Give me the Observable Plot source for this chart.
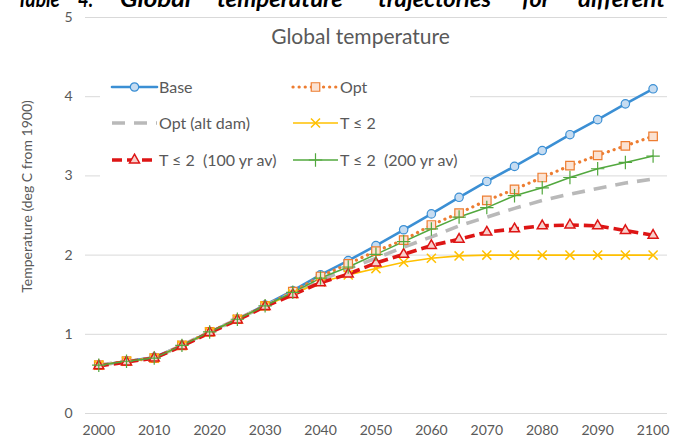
<!DOCTYPE html>
<html>
<head>
<meta charset="utf-8">
<script src="https://cdn.jsdelivr.net/npm/d3@7"></script>
<script src="https://cdn.jsdelivr.net/npm/@observablehq/plot@0.6"></script>
<style>
  html, body { margin: 0; padding: 0; background: #fff; overflow: hidden; }
  #wrap { position: relative; width: 678px; height: 440px; font-family: Lato, "Open Sans", sans-serif; }
  #caption { position: absolute; left: 0; top: 0; }
  #title { position: absolute; left: 0; width: 721px; top: 24px; text-align: center; font: 400 21px/24px Lato, sans-serif; color: #595959; }
  #legend { position: absolute; left: 100px; top: 68px; width: 370px; height: 115px; background: #fff; }
  svg { display: block; }
</style>
</head>
<body>
<div id="wrap">
  <div id="chart"></div>
  <div id="caption"></div>
  <div id="title">Global temperature</div>
  <div id="legend"></div>
</div>
<script>
// ---- data ----
const years = [2000,2005,2010,2015,2020,2025,2030,2035,2040,2045,2050,2055,2060,2065,2070,2075,2080,2085,2090,2095,2100];
const base    = [0.61,0.66,0.71,0.86,1.03,1.19,1.37,1.55,1.75,1.93,2.12,2.32,2.52,2.73,2.93,3.12,3.32,3.52,3.71,3.91,4.10];
const opt     = [0.61,0.66,0.70,0.86,1.03,1.19,1.36,1.54,1.73,1.89,2.05,2.19,2.38,2.53,2.69,2.83,2.98,3.13,3.26,3.38,3.50];
const optAlt  = [0.61,0.66,0.70,0.86,1.03,1.19,1.36,1.52,1.68,1.83,1.96,2.10,2.23,2.37,2.48,2.59,2.69,2.77,2.84,2.91,2.96];
const t2      = [0.61,0.66,0.70,0.86,1.03,1.19,1.36,1.51,1.66,1.75,1.83,1.91,1.96,1.99,2.00,2.00,2.00,2.00,2.00,2.00,2.00];
const t2y100  = [0.60,0.65,0.70,0.85,1.02,1.18,1.35,1.50,1.65,1.76,1.90,2.01,2.12,2.20,2.29,2.33,2.37,2.38,2.37,2.31,2.25];
const t2y200  = [0.61,0.66,0.70,0.86,1.03,1.19,1.36,1.53,1.71,1.85,2.01,2.17,2.33,2.48,2.60,2.75,2.85,2.98,3.09,3.17,3.25];
const seriesNames = ["Base", "Opt", "Opt (alt dam)", "T ≤ 2", "T ≤ 2  (100 yr av)", "T ≤ 2  (200 yr av)"];
const seriesValues = [base, opt, optAlt, t2, t2y100, t2y200];
const xTicks = [2000,2010,2020,2030,2040,2050,2060,2070,2080,2090,2100];
const yTicks = [0,1,2,3,4,5];
const yLabel = "Temperature (deg C from 1900)";
const captionWords = ["Table", "4.", "Global", "temperature", "trajectories", "for", "different", "objectives"];

// ---- styles / layout ----
const captionBoxes = [[17,43],[78,15],[120,71],[217,126],[378,113],[522,28],[578,87],[691,100]];
const styles = [
  {stroke: "#3b8fd4", width: 2.6, dash: null, cap: "round", symbol: "circle", r: 4.2, fill: "#c6dcf1", mStroke: "#3b8fd4", mWidth: 1.2},
  {stroke: "#ed7d31", width: 3.2, dash: "0.1,6", cap: "round", symbol: "square", r: 4.8, fill: "#fbe2d2", mStroke: "#ed7d31", mWidth: 1.2},
  {stroke: "#b9b9b9", width: 3.6, dash: "13,9", cap: "butt", symbol: null},
  {stroke: "#ffc000", width: 1.6, dash: null, cap: "butt", symbol: "times", r: 4.2, fill: "none", mStroke: "#ffc000", mWidth: 1.5},
  {stroke: "#dd1515", width: 3.6, dash: "10,5", cap: "butt", symbol: "triangle", r: 3.7, fill: "#f8d0cc", mStroke: "#dd1515", mWidth: 1.5},
  {stroke: "#52a83e", width: 1.5, dash: null, cap: "butt", symbol: "plus", r: 4.4, fill: "none", mStroke: "#52a83e", mWidth: 1.2}
];

const rows = seriesNames.map((name, i) => years.map((yr, j) => ({series: name, year: yr, value: seriesValues[i][j]})));

const marks = [
  Plot.gridY(yTicks, {stroke: "#d9d9d9", strokeOpacity: 1, strokeWidth: 1}),
  Plot.axisY(yTicks, {tickSize: 0, tickPadding: 13, label: null, tickFormat: d => String(d), fontSize: 14, fill: "#595959"}),
  Plot.axisX(xTicks, {tickSize: 0, tickPadding: 12, label: null, tickFormat: d => String(d), fontSize: 14, fill: "#595959"}),
  Plot.text([yLabel], {frameAnchor: "left", rotate: -90, dx: -58, dy: -19, textAnchor: "middle", fontSize: 14, fill: "#595959", text: d => d})
];
rows.forEach((data, i) => {
  const s = styles[i];
  marks.push(Plot.line(data, {x: "year", y: "value", stroke: s.stroke, strokeWidth: s.width, strokeDasharray: s.dash, strokeLinecap: s.cap}));
});
rows.forEach((data, i) => {
  const s = styles[i];
  if (!s.symbol) return;
  marks.push(Plot.dot(data, {x: "year", y: "value", symbol: s.symbol, r: s.r, fill: s.fill, stroke: s.mStroke, strokeWidth: s.mWidth}));
});

const chart = Plot.plot({
  width: 678,
  height: 440,
  marginLeft: 85,
  marginRight: 11,
  marginTop: 17,
  marginBottom: 27,
  style: {fontFamily: "Lato, 'Open Sans', sans-serif", fontSize: "14px", color: "#595959", background: "#fff"},
  x: {type: "linear", domain: [1997.6, 2102.6]},
  y: {domain: [0, 5]},
  marks
});
document.getElementById("chart").appendChild(chart);

// ---- caption (top, clipped by the page edge) ----
const cap = d3.select("#caption").append("svg").attr("width", 678).attr("height", 14);
captionWords.forEach((w, i) => {
  const [x, len] = captionBoxes[i];
  cap.append("text").attr("x", x).attr("y", 7)
    .attr("font-family", "Lato, sans-serif").attr("font-style", "italic").attr("font-weight", 700)
    .attr("font-size", 23).attr("fill", "#000")
    .attr("textLength", len).attr("lengthAdjust", "spacingAndGlyphs").text(w);
});

// ---- legend ----
const symbolMap = {circle: d3.symbolCircle, square: d3.symbolSquare, triangle: d3.symbolTriangle, times: d3.symbolTimes, plus: d3.symbolPlus};
const lg = d3.select("#legend").append("svg").attr("width", 370).attr("height", 115);
const rowY = [19, 55, 92];
const colX = [12, 193];
seriesNames.forEach((name, i) => {
  const s = styles[i];
  const cx = colX[i % 2], cy = rowY[Math.floor(i / 2)];
  const g = lg.append("g");
  g.append("line").attr("x1", cx).attr("x2", cx + 45).attr("y1", cy).attr("y2", cy)
    .attr("stroke", s.stroke).attr("stroke-width", s.width)
    .attr("stroke-dasharray", s.dash).attr("stroke-linecap", s.cap);
  if (s.symbol) {
    g.append("path").attr("d", d3.symbol(symbolMap[s.symbol], Math.PI * s.r * s.r)())
      .attr("transform", `translate(${cx + 22.5},${cy})`)
      .attr("fill", s.fill).attr("stroke", s.mStroke).attr("stroke-width", s.mWidth);
  }
  g.append("text").attr("x", cx + 47).attr("y", cy).attr("dy", "0.35em")
    .attr("font-family", "Lato, sans-serif").attr("font-size", 16).attr("fill", "#595959")
    .style("white-space", "pre").text(name);
});
</script>
</body>
</html>
